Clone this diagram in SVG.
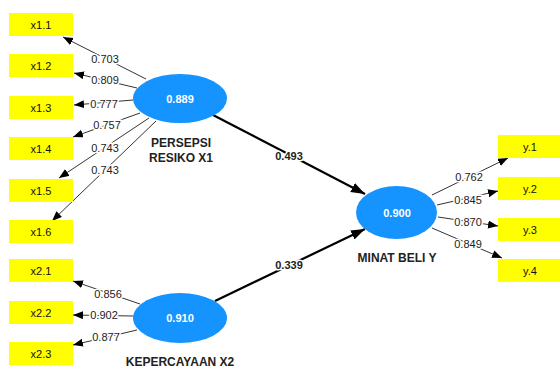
<svg xmlns="http://www.w3.org/2000/svg" width="560" height="368" viewBox="0 0 560 368">
<defs>
<style>
.box{fill:#FFFF00;}
.bt{font-family:"Liberation Sans",Arial,sans-serif;font-size:11px;fill:#111;text-anchor:middle;}
.ell{fill:#1593FF;}
.et{font-family:"Liberation Sans",Arial,sans-serif;font-size:11px;font-weight:bold;fill:#fff;text-anchor:middle;}
.nl{font-family:"Liberation Sans",Arial,sans-serif;font-size:12px;font-weight:bold;fill:#222;text-anchor:middle;}
.ld{stroke:#333;stroke-width:1;fill:none;marker-end:url(#a);}
.st{stroke:#000;stroke-width:2.2;fill:none;marker-end:url(#b);}
.lb{font-family:"Liberation Sans",Arial,sans-serif;font-size:11px;fill:#222;text-anchor:middle;stroke:#fff;stroke-width:3;paint-order:stroke;}
</style>
<marker id="a" markerUnits="userSpaceOnUse" markerWidth="11" markerHeight="9" refX="10" refY="4" orient="auto"><path d="M0,0 L10,4 L0,8 z" fill="#000"/></marker>
<marker id="b" markerUnits="userSpaceOnUse" markerWidth="15" markerHeight="11" refX="14" refY="5" orient="auto"><path d="M0,0 L14,5 L0,10 z" fill="#000"/></marker>
</defs>
<rect width="560" height="368" fill="#fff"/>
<g id="connectors">
<line class="ld" x1="146" y1="79" x2="63" y2="37"/>
<line class="ld" x1="137" y1="88" x2="74" y2="73"/>
<line class="ld" x1="133" y1="100" x2="74" y2="105"/>
<line class="ld" x1="140" y1="113" x2="73" y2="137"/>
<line class="ld" x1="149" y1="118" x2="59" y2="178"/>
<line class="ld" x1="156" y1="121" x2="52" y2="221"/>
<line class="ld" x1="140" y1="304" x2="73" y2="281"/>
<line class="ld" x1="133" y1="316" x2="73" y2="315"/>
<line class="ld" x1="137" y1="330" x2="73" y2="345"/>
<line class="ld" x1="432" y1="195" x2="508" y2="158"/>
<line class="ld" x1="437" y1="205" x2="498" y2="191"/>
<line class="ld" x1="438" y1="217" x2="498" y2="226"/>
<line class="ld" x1="432" y1="228" x2="502" y2="258"/>
<line class="st" x1="213" y1="115" x2="365" y2="194"/>
<line class="st" x1="215" y1="301" x2="365" y2="229"/>
<text class="lb" x="105" y="63">0.703</text>
<text class="lb" x="105" y="84">0.809</text>
<text class="lb" x="104" y="108">0.777</text>
<text class="lb" x="107" y="129">0.757</text>
<text class="lb" x="105" y="152">0.743</text>
<text class="lb" x="105" y="174">0.743</text>
<text class="lb" x="108" y="298">0.856</text>
<text class="lb" x="104" y="319">0.902</text>
<text class="lb" x="106" y="341">0.877</text>
<text class="lb" x="469" y="181">0.762</text>
<text class="lb" x="468" y="204">0.845</text>
<text class="lb" x="468" y="226">0.870</text>
<text class="lb" x="468" y="248">0.849</text>
<text class="lb" x="289" y="160" font-weight="bold">0.493</text>
<text class="lb" x="289" y="269" font-weight="bold">0.339</text>
</g>
<g id="x1.1"><rect class="box" x="9" y="13" width="64" height="23"/><text class="bt" x="41" y="28.5">x1.1</text></g>
<g id="x1.2"><rect class="box" x="9" y="54" width="64" height="23"/><text class="bt" x="41" y="69.5">x1.2</text></g>
<g id="x1.3"><rect class="box" x="9" y="96" width="64" height="23"/><text class="bt" x="41" y="111.5">x1.3</text></g>
<g id="x1.4"><rect class="box" x="9" y="137" width="64" height="23"/><text class="bt" x="41" y="152.5">x1.4</text></g>
<g id="x1.5"><rect class="box" x="9" y="179" width="64" height="23"/><text class="bt" x="41" y="194.5">x1.5</text></g>
<g id="x1.6"><rect class="box" x="9" y="220" width="64" height="23"/><text class="bt" x="41" y="235.5">x1.6</text></g>
<g id="x2.1"><rect class="box" x="9" y="259" width="64" height="23"/><text class="bt" x="41" y="274.5">x2.1</text></g>
<g id="x2.2"><rect class="box" x="9" y="301" width="64" height="23"/><text class="bt" x="41" y="316.5">x2.2</text></g>
<g id="x2.3"><rect class="box" x="9" y="342" width="64" height="23"/><text class="bt" x="41" y="357.5">x2.3</text></g>
<g id="y.1"><rect class="box" x="498" y="135" width="64" height="23"/><text class="bt" x="530" y="150.5">y.1</text></g>
<g id="y.2"><rect class="box" x="498" y="177" width="64" height="23"/><text class="bt" x="530" y="192.5">y.2</text></g>
<g id="y.3"><rect class="box" x="498" y="218" width="64" height="23"/><text class="bt" x="530" y="233.5">y.3</text></g>
<g id="y.4"><rect class="box" x="498" y="259" width="64" height="23"/><text class="bt" x="530" y="274.5">y.4</text></g>
<g id="persepsi"><ellipse class="ell" cx="180" cy="98.5" rx="47" ry="24.5"/><text class="et" x="180" y="102.5">0.889</text><text class="nl" x="181" y="147">PERSEPSI</text><text class="nl" x="181" y="162">RESIKO X1</text></g>
<g id="kepercayaan"><ellipse class="ell" cx="180" cy="318" rx="47" ry="25"/><text class="et" x="180" y="322">0.910</text><text class="nl" x="180" y="366">KEPERCAYAAN X2</text></g>
<g id="minat"><ellipse class="ell" cx="396.5" cy="212.5" rx="40.5" ry="26.5"/><text class="et" x="397" y="216.5">0.900</text><text class="nl" x="397" y="262">MINAT BELI Y</text></g>
</svg>
